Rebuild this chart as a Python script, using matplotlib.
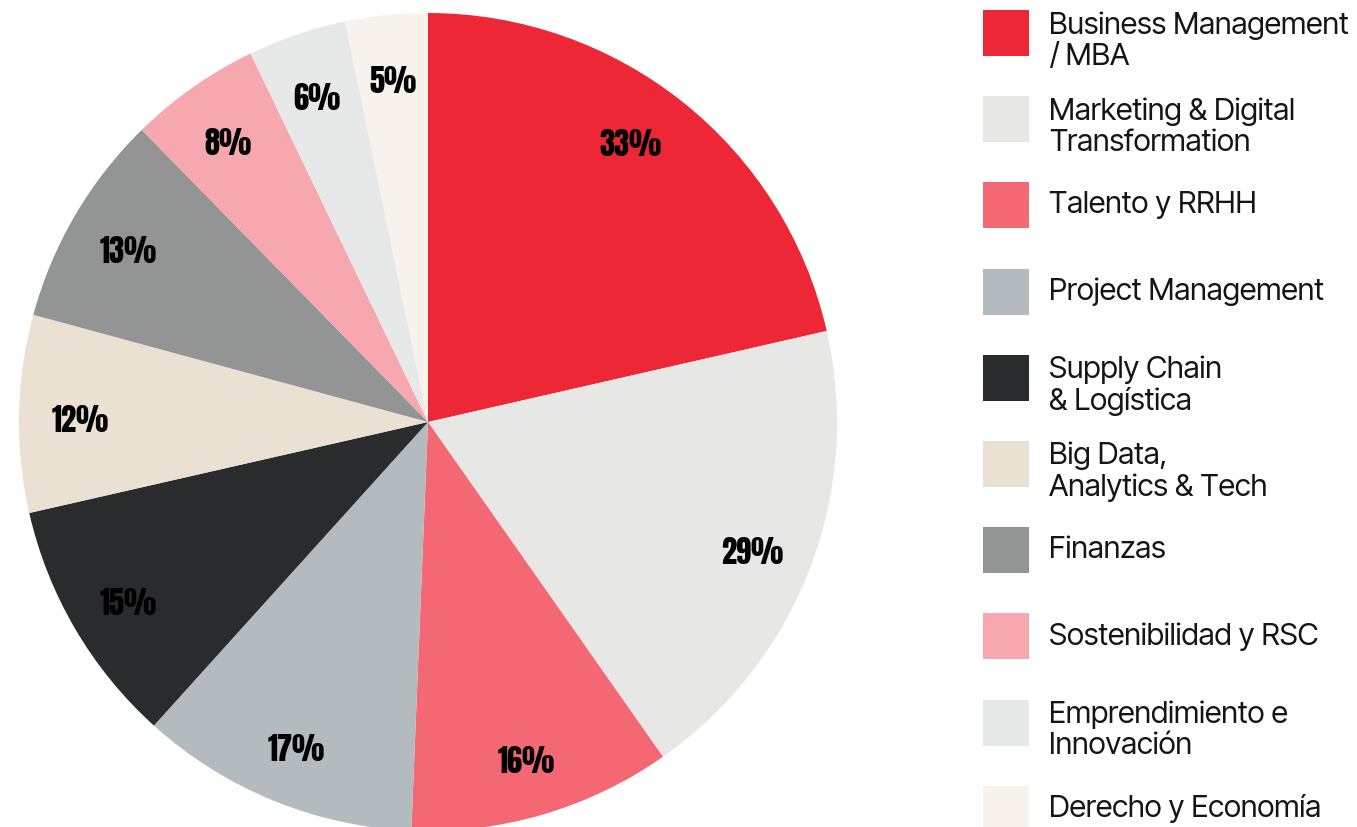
import matplotlib
matplotlib.use("Agg")
import numpy as np
import matplotlib.pyplot as plt
from matplotlib.patches import Rectangle

# categories in clockwise order from 12 o'clock
categories = [
    "Business Management\n/ MBA",
    "Marketing & Digital\nTransformation",
    "Talento y RRHH",
    "Project Management",
    "Supply Chain\n& Logística",
    "Big Data,\nAnalytics & Tech",
    "Finanzas",
    "Sostenibilidad y RSC",
    "Emprendimiento e\nInnovación",
    "Derecho y Economía",
]
values = [33, 29, 16, 17, 15, 12, 13, 8, 6, 5]
pct_labels = ["33%", "29%", "16%", "17%", "15%", "12%", "13%", "8%", "6%", "5%"]
colors = ["#EE2737", "#E7E7E6", "#F36872", "#B4BBBE", "#282C2D",
          "#EAE1D2", "#939594", "#F7A8AF", "#E7E9E8", "#F7F3EC"]

W, H = 1357, 827
fig = plt.figure(figsize=(W / 100, H / 100), dpi=100)

# pie axes: centre (428, 422), radius ~409 px
cx, cy, r = 428, 422, 409
ax = fig.add_axes([(cx - r) / W, (H - cy - r) / H, 2 * r / W, 2 * r / H])
wedges, _ = ax.pie(values, colors=colors, startangle=90, counterclock=False,
                   radius=1, wedgeprops=dict(linewidth=0))
for w in wedges:
    w.set_clip_on(False)
ax.set_xlim(-1, 1)
ax.set_ylim(-1, 1)
ax.set_aspect("equal")
ax.axis("off")

# percentage labels
total = sum(values)
start = 90.0
for i, (v, lab) in enumerate(zip(values, pct_labels)):
    span = v / total * 360
    mid = start - span / 2
    if i == 0:
        mid += 3  # first label sits a bit nearer the top in the original
    mid = np.deg2rad(mid)
    ax.text(0.85 * np.cos(mid), 0.85 * np.sin(mid) - 0.014, lab,
            ha="center", va="center", fontsize=22,
            family=["Anton", "DejaVu Sans"], color="black")
    start -= span

# legend
box = 46
top0, step = 10, 86.2
for i, (cat, col) in enumerate(zip(categories, colors)):
    top = top0 + i * step
    fig.patches.append(Rectangle((983 / W, 1 - (top + box) / H), box / W, box / H,
                                 transform=fig.transFigure, facecolor=col,
                                 edgecolor="none"))
    two_lines = "\n" in cat
    yc = top + box / 2 + (8 if two_lines else 0)
    fig.text(1049 / W, 1 - yc / H, cat, ha="left", va="center",
             fontsize=22, family=["Inter Tight", "Roboto"], color="#151515",
             linespacing=1.14)

fig.savefig("out.png", dpi=100)
